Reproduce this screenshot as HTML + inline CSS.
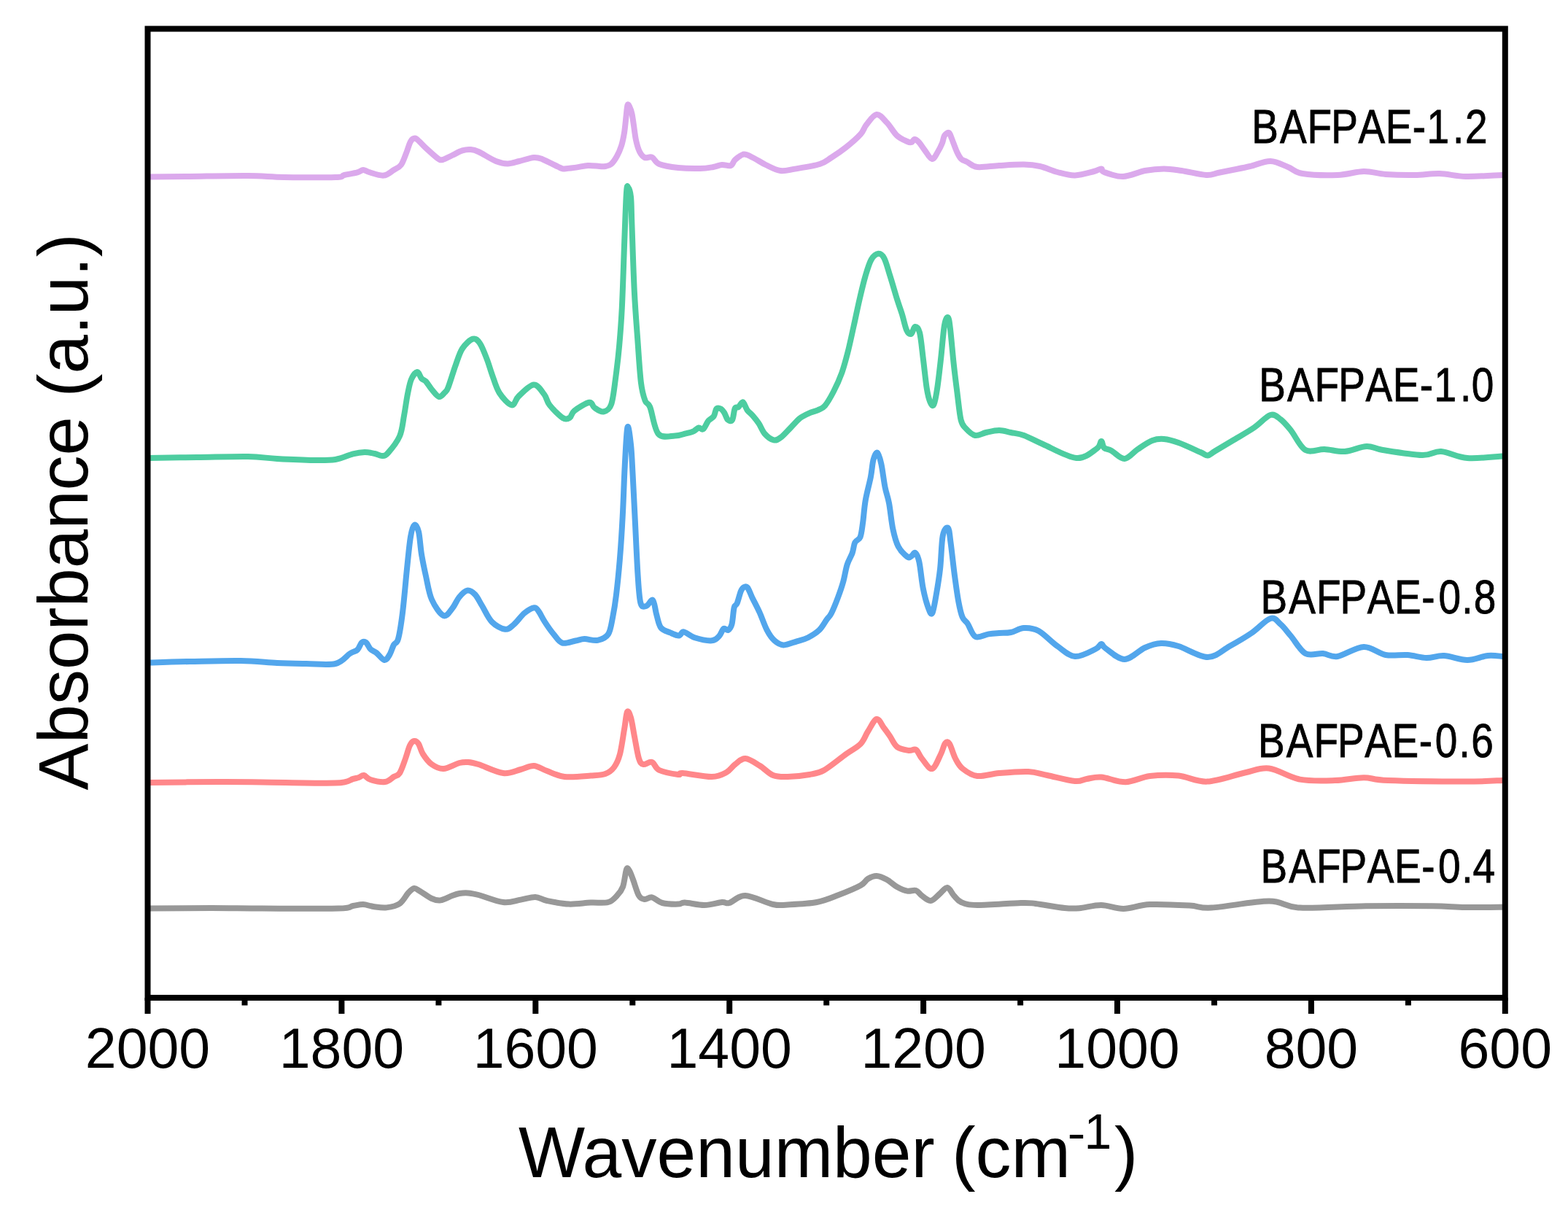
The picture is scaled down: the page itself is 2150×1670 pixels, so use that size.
<!DOCTYPE html>
<html><head><meta charset="utf-8"><title>FTIR spectra</title>
<style>
html,body{margin:0;padding:0;background:#fff;}
body{width:2150px;height:1670px;overflow:hidden;}
svg{display:block;}

</style></head>
<body>
<svg width="2150" height="1670" viewBox="0 0 2150 1670">
<rect width="2150" height="1670" fill="#fff"/>
<g fill="none" stroke-width="8" stroke-linejoin="round" stroke-linecap="round">
<path d="M204.0,1245.6 C218.3,1245.5 264.0,1245.0 290.0,1245.0 C316.0,1245.0 331.0,1245.5 360.0,1245.6 C389.0,1245.7 443.3,1246.2 464.0,1245.6 C484.7,1245.0 478.3,1242.9 484.0,1242.0 C489.7,1241.1 493.3,1239.8 498.0,1240.0 C502.7,1240.2 506.7,1242.3 512.0,1243.0 C517.3,1243.7 524.0,1245.1 530.0,1244.4 C536.0,1243.7 543.0,1242.4 548.0,1239.0 C553.0,1235.6 556.7,1227.5 560.0,1224.0 C563.3,1220.5 565.3,1218.3 568.0,1218.0 C570.7,1217.7 572.0,1219.7 576.0,1222.0 C580.0,1224.3 587.3,1229.9 592.0,1232.0 C596.7,1234.1 599.3,1235.1 604.0,1234.4 C608.7,1233.7 615.7,1229.6 620.0,1228.0 C624.3,1226.4 626.3,1225.6 630.0,1225.0 C633.7,1224.4 637.7,1224.1 642.0,1224.4 C646.3,1224.7 648.0,1224.9 656.0,1227.0 C664.0,1229.1 680.3,1235.9 690.0,1237.0 C699.7,1238.1 706.7,1234.8 714.0,1233.6 C721.3,1232.4 728.0,1229.8 734.0,1230.0 C740.0,1230.2 742.3,1233.4 750.0,1235.0 C757.7,1236.6 770.0,1239.2 780.0,1239.6 C790.0,1240.0 801.0,1238.0 810.0,1237.6 C819.0,1237.2 828.0,1238.6 834.0,1237.0 C840.0,1235.4 842.7,1231.5 846.0,1228.0 C849.3,1224.5 851.8,1222.0 854.0,1216.0 C856.2,1210.0 857.5,1195.7 859.0,1192.0 C860.5,1188.3 861.5,1191.7 863.0,1194.0 C864.5,1196.3 865.8,1200.3 868.0,1206.0 C870.2,1211.7 873.3,1223.5 876.0,1228.0 C878.7,1232.5 881.0,1232.6 884.0,1233.0 C887.0,1233.4 890.0,1229.6 894.0,1230.4 C898.0,1231.2 902.0,1236.5 908.0,1238.0 C914.0,1239.5 924.8,1239.7 930.0,1239.6 C935.2,1239.5 933.0,1237.4 939.0,1237.6 C945.0,1237.8 957.5,1241.1 966.0,1241.0 C974.5,1240.9 984.3,1237.5 990.0,1237.0 C995.7,1236.5 994.7,1239.5 1000.0,1238.0 C1005.3,1236.5 1012.0,1227.7 1022.0,1228.0 C1032.0,1228.3 1050.3,1237.9 1060.0,1240.0 C1069.7,1242.1 1070.0,1240.9 1080.0,1240.4 C1090.0,1239.9 1108.3,1239.2 1120.0,1237.0 C1131.7,1234.8 1140.0,1230.8 1150.0,1227.0 C1160.0,1223.2 1173.3,1217.7 1180.0,1214.0 C1186.7,1210.3 1186.3,1207.2 1190.0,1205.0 C1193.7,1202.8 1197.7,1200.8 1202.0,1201.0 C1206.3,1201.2 1211.3,1203.5 1216.0,1206.0 C1220.7,1208.5 1225.3,1213.4 1230.0,1216.0 C1234.7,1218.6 1239.7,1220.8 1244.0,1221.6 C1248.3,1222.4 1252.7,1219.9 1256.0,1221.0 C1259.3,1222.1 1260.7,1225.7 1264.0,1228.0 C1267.3,1230.3 1272.0,1235.3 1276.0,1235.0 C1280.0,1234.7 1284.2,1229.0 1288.0,1226.0 C1291.8,1223.0 1295.7,1216.7 1299.0,1217.0 C1302.3,1217.3 1304.8,1224.7 1308.0,1228.0 C1311.2,1231.3 1312.7,1234.8 1318.0,1237.0 C1323.3,1239.2 1326.3,1240.8 1340.0,1241.0 C1353.7,1241.2 1386.7,1238.3 1400.0,1238.0 C1413.3,1237.7 1410.0,1237.8 1420.0,1239.0 C1430.0,1240.2 1450.0,1244.0 1460.0,1245.0 C1470.0,1246.0 1471.7,1245.9 1480.0,1245.2 C1488.3,1244.5 1499.9,1240.9 1510.0,1241.0 C1520.1,1241.1 1529.4,1246.2 1540.5,1246.0 C1551.6,1245.8 1561.6,1240.8 1576.7,1240.1 C1591.8,1239.4 1616.9,1240.8 1631.0,1241.6 C1645.1,1242.3 1643.2,1245.6 1661.4,1244.6 C1679.6,1243.6 1719.8,1235.6 1740.0,1235.6 C1760.2,1235.6 1760.1,1243.5 1782.3,1244.6 C1804.5,1245.7 1842.8,1242.6 1873.0,1242.2 C1903.2,1241.8 1941.0,1241.9 1963.7,1242.2 C1986.4,1242.5 1992.9,1243.8 2009.0,1244.0 C2025.1,1244.2 2051.8,1243.8 2060.4,1243.7" stroke="#989898"/>
<path d="M204.0,1073.0 C220.0,1072.8 274.0,1072.1 300.0,1072.0 C326.0,1071.9 333.3,1072.1 360.0,1072.4 C386.7,1072.7 439.3,1074.3 460.0,1073.6 C480.7,1072.9 478.7,1069.3 484.0,1068.0 C489.3,1066.7 489.5,1066.8 492.0,1066.0 C494.5,1065.2 496.3,1062.5 499.0,1063.0 C501.7,1063.5 503.2,1067.5 508.0,1069.0 C512.8,1070.5 522.7,1072.7 528.0,1072.0 C533.3,1071.3 536.7,1067.0 540.0,1065.0 C543.3,1063.0 545.3,1064.2 548.0,1060.0 C550.7,1055.8 553.7,1046.3 556.0,1040.0 C558.3,1033.7 560.0,1026.0 562.0,1022.0 C564.0,1018.0 566.0,1016.3 568.0,1016.0 C570.0,1015.7 572.0,1017.0 574.0,1020.0 C576.0,1023.0 577.0,1029.3 580.0,1034.0 C583.0,1038.7 587.3,1044.7 592.0,1048.0 C596.7,1051.3 601.7,1054.3 608.0,1054.0 C614.3,1053.7 624.3,1047.5 630.0,1046.0 C635.7,1044.5 637.7,1044.7 642.0,1045.0 C646.3,1045.3 648.0,1045.5 656.0,1048.0 C664.0,1050.5 680.3,1058.8 690.0,1060.0 C699.7,1061.2 707.0,1056.7 714.0,1055.0 C721.0,1053.3 726.0,1049.7 732.0,1050.0 C738.0,1050.3 743.0,1054.5 750.0,1057.0 C757.0,1059.5 764.0,1063.9 774.0,1065.0 C784.0,1066.1 800.7,1064.3 810.0,1063.6 C819.3,1062.9 824.7,1062.9 830.0,1061.0 C835.3,1059.1 838.7,1056.5 842.0,1052.0 C845.3,1047.5 847.7,1042.7 850.0,1034.0 C852.3,1025.3 854.3,1009.7 856.0,1000.0 C857.7,990.3 858.5,978.7 860.0,976.0 C861.5,973.3 863.3,978.3 865.0,984.0 C866.7,989.7 868.2,1000.7 870.0,1010.0 C871.8,1019.3 874.0,1033.7 876.0,1040.0 C878.0,1046.3 879.0,1047.2 882.0,1048.0 C885.0,1048.8 890.3,1043.7 894.0,1045.0 C897.7,1046.3 898.0,1053.2 904.0,1056.0 C910.0,1058.8 924.7,1061.3 930.0,1062.0 C935.3,1062.7 928.3,1059.5 936.0,1060.0 C943.7,1060.5 966.0,1065.2 976.0,1065.0 C986.0,1064.8 990.7,1061.8 996.0,1059.0 C1001.3,1056.2 1003.7,1051.2 1008.0,1048.0 C1012.3,1044.8 1016.3,1039.7 1022.0,1040.0 C1027.7,1040.3 1035.7,1046.2 1042.0,1050.0 C1048.3,1053.8 1053.7,1060.5 1060.0,1063.0 C1066.3,1065.5 1071.7,1065.2 1080.0,1065.0 C1088.3,1064.8 1101.7,1063.5 1110.0,1062.0 C1118.3,1060.5 1121.7,1060.7 1130.0,1056.0 C1138.3,1051.3 1151.7,1040.0 1160.0,1034.0 C1168.3,1028.0 1175.0,1025.2 1180.0,1020.0 C1185.0,1014.8 1186.3,1008.7 1190.0,1003.0 C1193.7,997.3 1198.3,986.8 1202.0,986.0 C1205.7,985.2 1209.0,994.2 1212.0,998.0 C1215.0,1001.8 1217.0,1004.7 1220.0,1009.0 C1223.0,1013.3 1225.7,1020.7 1230.0,1024.0 C1234.3,1027.3 1241.7,1028.3 1246.0,1029.0 C1250.3,1029.7 1253.0,1026.2 1256.0,1028.0 C1259.0,1029.8 1260.3,1035.7 1264.0,1040.0 C1267.7,1044.3 1273.7,1055.0 1278.0,1054.0 C1282.3,1053.0 1287.0,1039.8 1290.0,1034.0 C1293.0,1028.2 1294.0,1021.3 1296.0,1019.0 C1298.0,1016.7 1299.7,1016.5 1302.0,1020.0 C1304.3,1023.5 1307.0,1034.3 1310.0,1040.0 C1313.0,1045.7 1315.0,1050.0 1320.0,1054.0 C1325.0,1058.0 1331.7,1063.0 1340.0,1064.0 C1348.3,1065.0 1358.3,1061.0 1370.0,1060.0 C1381.7,1059.0 1399.0,1057.5 1410.0,1058.0 C1421.0,1058.5 1425.3,1060.8 1436.0,1063.0 C1446.7,1065.2 1465.0,1070.2 1474.0,1071.0 C1483.0,1071.8 1484.0,1068.9 1490.0,1068.0 C1496.0,1067.1 1501.1,1064.9 1510.0,1065.6 C1518.9,1066.3 1532.4,1072.5 1543.5,1072.2 C1554.6,1071.9 1564.6,1065.5 1576.7,1064.0 C1588.8,1062.5 1602.9,1062.2 1616.0,1063.5 C1629.1,1064.8 1640.2,1072.3 1655.3,1071.6 C1670.4,1070.9 1692.6,1062.5 1706.7,1059.5 C1720.8,1056.5 1727.4,1052.0 1740.0,1053.5 C1752.6,1055.0 1767.2,1065.8 1782.3,1068.6 C1797.4,1071.4 1816.1,1070.5 1830.7,1070.1 C1845.3,1069.7 1857.9,1066.2 1870.0,1066.2 C1882.1,1066.2 1880.0,1069.2 1903.2,1070.1 C1926.4,1071.0 1982.8,1071.6 2009.0,1071.6 C2035.2,1071.6 2051.8,1070.3 2060.4,1070.0" stroke="#FF878A"/>
<path d="M204.0,908.6 C213.3,908.3 239.0,907.4 260.0,907.0 C281.0,906.6 310.0,905.7 330.0,906.0 C350.0,906.3 365.0,908.3 380.0,909.0 C395.0,909.7 406.7,909.8 420.0,910.0 C433.3,910.2 450.0,912.3 460.0,910.0 C470.0,907.7 475.0,899.2 480.0,896.0 C485.0,892.8 487.3,893.5 490.0,891.0 C492.7,888.5 494.0,882.7 496.0,881.0 C498.0,879.3 500.0,879.5 502.0,881.0 C504.0,882.5 505.7,887.7 508.0,890.0 C510.3,892.3 512.8,892.5 516.0,895.0 C519.2,897.5 524.0,904.5 527.0,905.0 C530.0,905.5 531.8,901.5 534.0,898.0 C536.2,894.5 538.0,887.7 540.0,884.0 C542.0,880.3 544.0,883.3 546.0,876.0 C548.0,868.7 550.0,856.0 552.0,840.0 C554.0,824.0 556.2,797.3 558.0,780.0 C559.8,762.7 561.3,746.0 563.0,736.0 C564.7,726.0 566.2,721.2 568.0,720.0 C569.8,718.8 572.3,722.3 574.0,729.0 C575.7,735.7 576.3,749.8 578.0,760.0 C579.7,770.2 581.7,779.7 584.0,790.0 C586.3,800.3 588.0,813.0 592.0,822.0 C596.0,831.0 603.3,841.9 608.0,844.0 C612.7,846.1 616.4,838.6 620.0,834.4 C623.6,830.2 626.3,822.8 629.7,818.7 C633.1,814.6 637.0,810.2 640.6,809.6 C644.2,809.0 648.0,811.6 651.4,815.1 C654.8,818.6 657.3,824.5 661.1,830.8 C664.9,837.0 669.1,847.3 674.4,852.6 C679.6,857.9 687.6,862.2 692.6,862.8 C697.6,863.4 700.2,859.9 704.6,856.2 C709.0,852.5 714.6,844.3 719.2,840.5 C723.9,836.7 729.3,833.6 732.5,833.2 C735.7,832.8 736.1,834.8 738.5,838.0 C740.9,841.2 743.6,847.4 747.0,852.6 C750.4,857.9 755.1,864.7 759.1,869.5 C763.1,874.3 766.1,880.1 771.1,881.6 C776.1,883.1 784.2,879.4 789.3,878.5 C794.3,877.6 796.4,876.2 801.4,876.1 C806.4,876.0 814.1,879.0 819.5,877.9 C824.9,876.8 830.6,874.7 834.0,869.5 C837.4,864.3 838.3,855.4 840.1,846.5 C841.9,837.6 843.3,829.4 844.9,816.3 C846.5,803.1 848.3,785.6 849.8,767.6 C851.3,749.6 852.6,729.7 853.7,708.3 C854.9,686.9 855.6,659.6 856.7,639.2 C857.8,618.8 859.0,590.8 860.4,585.8 C861.8,580.8 863.8,599.0 865.0,609.5 C866.2,620.0 866.6,632.5 867.5,649.0 C868.4,665.5 869.3,685.2 870.5,708.3 C871.7,731.4 873.2,767.6 874.5,787.4 C875.8,807.2 876.4,819.6 878.4,826.9 C880.4,834.1 883.5,831.5 886.3,830.9 C889.1,830.2 892.9,821.0 895.2,823.0 C897.5,825.0 898.4,836.5 900.2,842.7 C902.0,849.0 903.0,856.4 906.1,860.5 C909.2,864.6 914.8,865.6 918.9,867.4 C923.0,869.2 927.7,871.6 930.8,871.4 C933.9,871.2 934.1,865.9 937.7,866.4 C941.3,866.9 946.1,872.3 952.5,874.3 C958.9,876.3 970.6,878.7 976.2,878.3 C981.8,877.9 983.4,874.8 986.1,872.1 C988.8,869.4 990.2,863.3 992.3,861.9 C994.3,860.5 996.5,864.9 998.4,863.9 C1000.3,862.9 1002.1,860.8 1003.5,855.7 C1004.9,850.6 1005.4,838.0 1006.6,833.2 C1007.8,828.4 1009.2,830.9 1010.7,827.1 C1012.2,823.4 1014.3,814.4 1015.8,810.7 C1017.3,807.0 1018.4,806.0 1019.9,805.1 C1021.4,804.2 1023.1,803.3 1025.0,805.6 C1026.9,807.9 1028.5,813.3 1031.2,818.9 C1033.9,824.5 1038.0,831.9 1041.4,839.4 C1044.8,846.9 1048.2,857.4 1051.6,863.9 C1055.0,870.4 1058.1,874.9 1061.9,878.3 C1065.7,881.7 1069.1,884.2 1074.2,884.4 C1079.3,884.6 1087.0,881.0 1092.6,879.3 C1098.2,877.6 1102.8,876.8 1107.9,874.2 C1113.0,871.6 1119.0,868.0 1123.3,863.9 C1127.6,859.8 1130.7,853.5 1133.5,849.6 C1136.3,845.7 1137.4,845.8 1140.0,840.7 C1142.6,835.6 1146.3,826.3 1149.0,819.1 C1151.7,811.9 1154.1,805.1 1156.2,797.6 C1158.3,790.1 1159.5,780.8 1161.6,774.2 C1163.7,767.6 1166.9,763.2 1168.7,758.1 C1170.5,753.0 1170.5,747.3 1172.3,743.7 C1174.1,740.1 1177.7,741.0 1179.5,736.5 C1181.3,732.0 1181.9,725.2 1183.1,716.8 C1184.3,708.4 1184.9,696.7 1186.7,686.2 C1188.5,675.7 1192.1,663.2 1193.9,653.9 C1195.7,644.6 1196.0,636.0 1197.5,630.5 C1199.0,625.0 1201.1,619.8 1202.9,620.7 C1204.7,621.6 1206.5,628.0 1208.3,635.9 C1210.1,643.8 1211.8,659.3 1213.6,668.3 C1215.4,677.3 1217.2,680.2 1219.0,689.8 C1220.8,699.4 1222.3,715.8 1224.4,725.7 C1226.5,735.6 1228.3,742.8 1231.6,749.1 C1234.9,755.4 1241.2,761.2 1244.2,763.5 C1247.2,765.8 1247.8,763.5 1249.6,762.6 C1251.4,761.7 1253.2,756.8 1255.0,758.1 C1256.8,759.4 1258.6,762.5 1260.4,770.6 C1262.2,778.7 1263.6,796.1 1265.7,806.6 C1267.8,817.1 1270.8,827.8 1272.9,833.5 C1275.0,839.2 1276.5,843.7 1278.3,840.7 C1280.1,837.7 1281.9,825.8 1283.7,815.6 C1285.5,805.4 1287.6,793.1 1289.1,779.6 C1290.6,766.1 1290.9,744.0 1292.7,734.7 C1294.5,725.4 1298.1,722.4 1299.9,723.9 C1301.7,725.4 1302.0,732.9 1303.5,743.7 C1305.0,754.5 1307.1,775.1 1308.9,788.6 C1310.7,802.1 1312.4,814.9 1314.2,824.5 C1316.0,834.1 1317.5,841.0 1319.6,846.1 C1321.7,851.2 1323.8,850.6 1326.8,855.1 C1329.8,859.6 1332.8,870.6 1337.6,873.0 C1342.4,875.4 1350.2,870.2 1355.6,869.4 C1361.0,868.6 1364.9,868.4 1370.0,868.0 C1375.1,867.6 1380.3,868.2 1386.0,867.0 C1391.7,865.8 1397.7,861.3 1404.0,861.0 C1410.3,860.7 1416.3,860.8 1424.0,865.0 C1431.7,869.2 1441.7,880.2 1450.0,886.0 C1458.3,891.8 1465.3,899.3 1474.0,900.0 C1482.7,900.7 1496.0,892.8 1502.0,890.0 C1508.0,887.2 1507.7,883.2 1510.0,883.0 C1512.3,882.8 1510.7,885.5 1516.0,889.0 C1521.3,892.5 1533.0,904.2 1542.0,904.0 C1551.0,903.8 1561.7,891.7 1570.0,888.0 C1578.3,884.3 1584.3,882.3 1592.0,882.0 C1599.7,881.7 1605.3,882.8 1616.0,886.0 C1626.7,889.2 1644.3,901.0 1656.0,901.0 C1667.7,901.0 1676.0,891.5 1686.0,886.0 C1696.0,880.5 1706.7,874.3 1716.0,868.0 C1725.3,861.7 1735.3,850.0 1742.0,848.0 C1748.7,846.0 1751.3,852.0 1756.0,856.0 C1760.7,860.0 1764.3,865.3 1770.0,872.0 C1775.7,878.7 1782.7,892.0 1790.0,896.0 C1797.3,900.0 1806.7,895.3 1814.0,896.0 C1821.3,896.7 1824.7,901.5 1834.0,900.0 C1843.3,898.5 1859.0,887.3 1870.0,887.0 C1881.0,886.7 1890.0,896.2 1900.0,898.0 C1910.0,899.8 1920.7,897.3 1930.0,898.0 C1939.3,898.7 1947.7,901.8 1956.0,902.0 C1964.3,902.2 1970.7,898.5 1980.0,899.0 C1989.3,899.5 2002.0,905.0 2012.0,905.0 C2022.0,905.0 2032.0,899.8 2040.0,899.0 C2048.0,898.2 2056.7,899.8 2060.0,900.0" stroke="#52A6EC"/>
<path d="M204.0,628.0 C215.0,627.8 247.3,627.3 270.0,627.0 C292.7,626.7 321.7,625.7 340.0,626.0 C358.3,626.3 365.0,628.2 380.0,629.0 C395.0,629.8 416.7,630.8 430.0,631.0 C443.3,631.2 451.0,631.4 460.0,630.0 C469.0,628.6 477.3,624.1 484.0,622.4 C490.7,620.7 495.0,620.1 500.0,620.0 C505.0,619.9 510.0,621.2 514.0,622.0 C518.0,622.8 521.0,625.2 524.0,625.0 C527.0,624.8 528.0,625.5 532.0,621.0 C536.0,616.5 544.3,606.5 548.0,598.0 C551.7,589.5 552.2,579.7 554.0,570.0 C555.8,560.3 557.3,548.3 559.0,540.0 C560.7,531.7 561.8,525.0 564.0,520.0 C566.2,515.0 569.7,510.2 572.0,510.0 C574.3,509.8 576.0,516.8 578.0,519.0 C580.0,521.2 581.7,520.5 584.0,523.0 C586.3,525.5 589.0,530.5 592.0,534.0 C595.0,537.5 599.0,543.3 602.0,544.0 C605.0,544.7 607.9,540.1 610.0,538.0 C612.1,535.9 612.1,537.2 614.5,531.2 C616.9,525.2 621.0,511.1 624.2,502.2 C627.4,493.3 629.9,484.2 633.9,478.0 C637.9,471.8 644.4,465.9 648.4,464.7 C652.4,463.5 654.8,466.1 658.0,470.8 C661.2,475.5 664.9,485.4 667.7,492.6 C670.5,499.9 672.2,506.6 675.0,514.3 C677.8,521.9 680.2,531.6 684.6,538.5 C689.0,545.4 697.2,554.6 701.6,555.4 C706.0,556.2 706.2,547.9 711.2,543.3 C716.2,538.7 725.9,528.0 731.8,527.6 C737.6,527.2 742.7,536.3 746.3,540.9 C749.9,545.5 749.4,550.0 753.6,555.4 C757.8,560.8 767.1,570.1 771.7,573.0 C776.3,575.9 778.8,574.2 781.4,572.6 C784.0,571.0 783.0,566.8 787.4,563.3 C791.8,559.8 803.4,552.5 808.0,551.8 C812.6,551.1 812.0,556.9 815.2,559.0 C818.4,561.1 823.5,565.3 827.3,564.5 C831.1,563.7 835.4,562.2 838.2,554.2 C841.0,546.2 842.5,530.0 844.3,516.7 C846.1,503.4 847.7,490.2 849.1,474.4 C850.5,458.6 851.6,445.9 852.8,422.0 C854.0,398.1 855.2,357.4 856.2,331.0 C857.2,304.6 858.1,275.8 859.0,263.5 C859.9,251.2 860.3,255.9 861.3,257.0 C862.3,258.1 864.1,261.5 865.0,270.0 C865.9,278.5 865.6,286.4 866.4,308.0 C867.2,329.6 868.5,372.7 869.8,399.3 C871.1,425.9 872.9,446.6 874.4,467.5 C875.9,488.4 877.2,510.8 878.9,524.4 C880.6,538.0 882.5,543.7 884.6,549.4 C886.7,555.1 888.4,550.9 891.4,558.5 C894.4,566.1 897.1,588.5 902.8,595.0 C908.5,601.5 919.4,597.6 925.6,597.5 C931.8,597.4 935.8,595.4 940.0,594.4 C944.2,593.4 947.9,592.6 950.9,591.3 C953.9,590.0 955.9,587.0 958.1,586.5 C960.3,586.0 962.0,589.9 964.2,588.3 C966.4,586.7 969.0,579.7 971.4,576.8 C973.8,573.9 976.9,573.5 978.7,570.8 C980.5,568.1 980.7,562.2 982.3,560.5 C983.9,558.8 986.6,559.6 988.4,560.5 C990.2,561.4 991.6,563.5 993.2,566.0 C994.8,568.5 996.2,574.0 998.0,575.6 C999.8,577.2 1002.5,578.2 1004.1,575.6 C1005.7,573.0 1006.3,562.8 1007.7,559.9 C1009.1,557.0 1010.8,559.5 1012.6,558.1 C1014.4,556.7 1016.6,550.7 1018.6,551.4 C1020.6,552.1 1022.4,559.3 1024.6,562.3 C1026.8,565.3 1029.3,566.6 1031.9,569.6 C1034.5,572.6 1037.6,576.3 1040.4,580.5 C1043.2,584.7 1045.4,591.2 1048.8,595.0 C1052.2,598.8 1057.3,602.6 1060.9,603.4 C1064.5,604.2 1066.6,602.8 1070.6,599.8 C1074.6,596.8 1080.7,589.7 1085.1,585.3 C1089.5,580.9 1093.2,576.3 1097.2,573.2 C1101.2,570.1 1105.3,568.4 1109.3,566.6 C1113.3,564.8 1117.8,564.0 1121.4,562.3 C1125.0,560.6 1127.5,560.5 1131.1,556.3 C1134.7,552.1 1139.0,544.5 1142.9,537.0 C1146.8,529.5 1151.1,520.0 1154.3,511.1 C1157.5,502.2 1159.6,494.1 1162.3,483.6 C1165.0,473.1 1167.7,460.1 1170.4,448.0 C1173.1,435.9 1175.8,422.4 1178.5,410.8 C1181.2,399.2 1183.9,387.6 1186.6,378.5 C1189.3,369.4 1191.7,361.0 1194.7,355.9 C1197.7,350.8 1201.4,348.1 1204.4,347.8 C1207.4,347.5 1209.8,349.2 1212.5,354.3 C1215.2,359.4 1217.5,369.1 1220.5,378.5 C1223.5,387.9 1227.5,402.2 1230.2,410.8 C1232.9,419.4 1234.5,423.2 1236.7,430.2 C1238.9,437.2 1241.1,448.3 1243.2,452.9 C1245.3,457.5 1247.7,458.5 1249.6,457.7 C1251.5,456.9 1252.6,448.3 1254.5,448.0 C1256.4,447.7 1259.1,448.8 1261.0,456.1 C1262.9,463.4 1264.2,479.0 1265.8,491.7 C1267.4,504.4 1269.1,522.1 1270.7,532.1 C1272.3,542.1 1273.9,547.7 1275.5,551.5 C1277.1,555.3 1278.8,557.9 1280.4,554.7 C1282.0,551.5 1283.6,542.6 1285.2,532.1 C1286.8,521.6 1288.5,506.0 1290.1,491.7 C1291.7,477.4 1293.3,455.8 1294.9,446.4 C1296.5,437.0 1298.5,434.3 1299.8,435.1 C1301.1,435.9 1301.7,440.5 1303.0,451.3 C1304.3,462.1 1306.2,485.0 1307.8,499.8 C1309.4,514.6 1311.1,527.5 1312.7,540.2 C1314.3,552.9 1315.7,568.0 1317.6,575.8 C1319.5,583.6 1320.8,583.6 1324.0,587.1 C1327.2,590.6 1332.3,596.0 1337.0,597.0 C1341.7,598.0 1346.5,594.2 1352.0,593.0 C1357.5,591.8 1364.3,590.0 1370.0,590.0 C1375.7,590.0 1380.3,591.8 1386.0,593.0 C1391.7,594.2 1396.7,594.3 1404.0,597.0 C1411.3,599.7 1418.0,603.8 1430.0,609.0 C1442.0,614.2 1463.7,627.0 1476.0,628.0 C1488.3,629.0 1498.3,618.8 1504.0,615.0 C1509.7,611.2 1508.3,605.2 1510.0,605.0 C1511.7,604.8 1511.7,611.8 1514.0,614.0 C1516.3,616.2 1519.3,615.5 1524.0,618.0 C1528.7,620.5 1536.0,629.3 1542.0,629.0 C1548.0,628.7 1553.7,620.2 1560.0,616.0 C1566.3,611.8 1574.0,606.3 1580.0,604.0 C1586.0,601.7 1590.0,601.5 1596.0,602.0 C1602.0,602.5 1607.7,604.0 1616.0,607.0 C1624.3,610.0 1639.3,617.1 1646.0,620.0 C1652.7,622.9 1652.7,624.8 1656.0,624.5 C1659.3,624.2 1660.0,622.1 1666.0,618.5 C1672.0,614.9 1683.0,608.4 1692.0,603.0 C1701.0,597.6 1711.7,591.7 1720.0,586.0 C1728.3,580.3 1736.0,570.8 1742.0,569.0 C1748.0,567.2 1751.3,571.5 1756.0,575.0 C1760.7,578.5 1764.3,583.0 1770.0,590.0 C1775.7,597.0 1782.3,612.7 1790.0,617.0 C1797.7,621.3 1807.0,615.7 1816.0,616.0 C1825.0,616.3 1834.3,619.7 1844.0,619.0 C1853.7,618.3 1865.3,612.3 1874.0,612.0 C1882.7,611.7 1883.3,615.0 1896.0,617.0 C1908.7,619.0 1936.7,623.7 1950.0,624.0 C1963.3,624.3 1965.7,618.3 1976.0,619.0 C1986.3,619.7 1998.0,626.9 2012.0,628.0 C2026.0,629.1 2052.0,626.0 2060.0,625.6" stroke="#4DCDA0"/>
<path d="M204.0,242.6 C213.3,242.5 237.3,242.3 260.0,242.0 C282.7,241.7 318.3,240.8 340.0,241.0 C361.7,241.2 370.0,242.7 390.0,243.0 C410.0,243.3 446.3,243.5 460.0,243.0 C473.7,242.5 467.0,241.1 472.0,240.0 C477.0,238.9 485.7,237.6 490.0,236.4 C494.3,235.2 495.3,233.1 498.0,233.0 C500.7,232.9 501.3,234.7 506.0,236.0 C510.7,237.3 520.3,241.1 526.0,240.6 C531.7,240.1 536.0,235.4 540.0,233.0 C544.0,230.6 547.2,229.8 550.0,226.0 C552.8,222.2 554.8,215.3 557.0,210.0 C559.2,204.7 561.0,197.4 563.0,194.0 C565.0,190.6 567.0,189.6 569.0,189.6 C571.0,189.6 572.5,191.8 575.0,194.0 C577.5,196.2 579.8,199.2 584.0,203.0 C588.2,206.8 596.2,214.3 600.0,217.0 C603.8,219.7 603.7,219.7 607.0,219.0 C610.3,218.3 615.5,215.1 620.0,213.0 C624.5,210.9 629.8,207.7 634.0,206.4 C638.2,205.1 641.3,204.7 645.0,205.0 C648.7,205.3 650.2,205.3 656.0,208.0 C661.8,210.7 673.3,218.3 680.0,221.0 C686.7,223.7 690.7,224.4 696.0,224.4 C701.3,224.4 706.0,222.4 712.0,221.0 C718.0,219.6 726.7,216.4 732.0,216.0 C737.3,215.6 738.0,216.1 744.0,218.4 C750.0,220.7 763.0,227.8 768.0,230.0 C773.0,232.2 770.3,231.5 774.0,231.4 C777.7,231.3 784.7,230.3 790.0,229.6 C795.3,228.9 800.7,227.3 806.0,227.0 C811.3,226.7 818.0,227.8 822.0,228.0 C826.0,228.2 827.3,228.5 830.0,228.0 C832.7,227.5 835.3,227.3 838.0,225.0 C840.7,222.7 843.7,218.2 846.0,214.0 C848.3,209.8 850.3,205.3 852.0,200.0 C853.7,194.7 854.9,188.7 856.0,182.0 C857.1,175.3 857.8,166.3 858.5,160.0 C859.2,153.7 859.7,146.2 860.5,144.0 C861.3,141.8 862.5,145.0 863.5,147.0 C864.5,149.0 865.6,151.8 866.5,156.0 C867.4,160.2 868.1,166.0 869.0,172.0 C869.9,178.0 870.7,186.0 872.0,192.0 C873.3,198.0 875.0,204.0 877.0,208.0 C879.0,212.0 881.2,214.7 884.0,216.0 C886.8,217.3 890.7,214.1 894.0,215.6 C897.3,217.1 898.0,222.6 904.0,225.0 C910.0,227.4 920.7,229.0 930.0,230.0 C939.3,231.0 952.0,231.2 960.0,231.0 C968.0,230.8 973.0,229.8 978.0,229.0 C983.0,228.2 986.0,226.3 990.0,226.0 C994.0,225.7 999.0,228.2 1002.0,227.0 C1005.0,225.8 1005.0,221.6 1008.0,219.0 C1011.0,216.4 1015.7,211.9 1020.0,211.6 C1024.3,211.3 1029.0,214.6 1034.0,217.0 C1039.0,219.4 1044.0,223.2 1050.0,226.0 C1056.0,228.8 1063.3,233.1 1070.0,234.0 C1076.7,234.9 1081.0,233.1 1090.0,231.6 C1099.0,230.1 1115.7,227.6 1124.0,225.0 C1132.3,222.4 1134.0,219.8 1140.0,216.0 C1146.0,212.2 1153.3,207.3 1160.0,202.0 C1166.7,196.7 1175.3,189.2 1180.0,184.0 C1184.7,178.8 1184.3,175.5 1188.0,171.0 C1191.7,166.5 1197.3,157.5 1202.0,157.0 C1206.7,156.5 1211.3,163.2 1216.0,168.0 C1220.7,172.8 1225.3,181.7 1230.0,186.0 C1234.7,190.3 1240.7,192.5 1244.0,194.0 C1247.3,195.5 1248.3,195.5 1250.0,195.0 C1251.7,194.5 1252.3,191.0 1254.0,191.0 C1255.7,191.0 1257.7,192.5 1260.0,195.0 C1262.3,197.5 1265.0,202.2 1268.0,206.0 C1271.0,209.8 1275.0,217.7 1278.0,218.0 C1281.0,218.3 1283.7,211.7 1286.0,208.0 C1288.3,204.3 1290.5,199.7 1292.0,196.0 C1293.5,192.3 1293.5,188.3 1295.0,186.0 C1296.5,183.7 1299.3,181.3 1301.0,182.0 C1302.7,182.7 1303.2,185.7 1305.0,190.0 C1306.8,194.3 1309.8,203.3 1312.0,208.0 C1314.2,212.7 1315.7,215.7 1318.0,218.0 C1320.3,220.3 1322.3,220.2 1326.0,222.0 C1329.7,223.8 1332.7,228.2 1340.0,229.0 C1347.3,229.8 1359.3,227.6 1370.0,227.0 C1380.7,226.4 1394.7,225.4 1404.0,225.6 C1413.3,225.8 1418.3,226.3 1426.0,228.0 C1433.7,229.7 1442.0,233.9 1450.0,236.0 C1458.0,238.1 1465.7,240.6 1474.0,240.4 C1482.3,240.2 1494.0,236.5 1500.0,235.0 C1506.0,233.5 1507.7,231.2 1510.0,231.4 C1512.3,231.6 1509.0,234.2 1514.0,236.0 C1519.0,237.8 1530.7,242.3 1540.0,242.0 C1549.3,241.7 1560.7,235.8 1570.0,234.0 C1579.3,232.2 1587.7,231.4 1596.0,231.4 C1604.3,231.4 1610.3,232.6 1620.0,234.0 C1629.7,235.4 1645.7,239.5 1654.0,240.0 C1662.3,240.5 1664.0,238.2 1670.0,237.0 C1676.0,235.8 1682.7,234.5 1690.0,233.0 C1697.3,231.5 1705.3,230.0 1714.0,228.0 C1722.7,226.0 1733.3,220.8 1742.0,221.0 C1750.7,221.2 1758.7,226.2 1766.0,229.0 C1773.3,231.8 1774.7,236.2 1786.0,238.0 C1797.3,239.8 1820.0,240.5 1834.0,240.0 C1848.0,239.5 1859.0,235.2 1870.0,235.0 C1881.0,234.8 1888.3,238.2 1900.0,239.0 C1911.7,239.8 1927.7,240.2 1940.0,240.0 C1952.3,239.8 1962.3,237.7 1974.0,238.0 C1985.7,238.3 1995.7,241.7 2010.0,242.0 C2024.3,242.3 2051.7,240.3 2060.0,240.0" stroke="#DBA9EC"/>
</g>
<g stroke="#000" stroke-width="8" stroke-linecap="butt">
<line x1="202.5" y1="1368" x2="202.5" y2="1390.0"/>
<line x1="335.5" y1="1368" x2="335.5" y2="1378.5"/>
<line x1="468.4" y1="1368" x2="468.4" y2="1390.0"/>
<line x1="601.4" y1="1368" x2="601.4" y2="1378.5"/>
<line x1="734.3" y1="1368" x2="734.3" y2="1390.0"/>
<line x1="867.3" y1="1368" x2="867.3" y2="1378.5"/>
<line x1="1000.2" y1="1368" x2="1000.2" y2="1390.0"/>
<line x1="1133.2" y1="1368" x2="1133.2" y2="1378.5"/>
<line x1="1266.1" y1="1368" x2="1266.1" y2="1390.0"/>
<line x1="1399.1" y1="1368" x2="1399.1" y2="1378.5"/>
<line x1="1532.0" y1="1368" x2="1532.0" y2="1390.0"/>
<line x1="1665.0" y1="1368" x2="1665.0" y2="1378.5"/>
<line x1="1797.9" y1="1368" x2="1797.9" y2="1390.0"/>
<line x1="1930.9" y1="1368" x2="1930.9" y2="1378.5"/>
<line x1="2063.8" y1="1368" x2="2063.8" y2="1390.0"/>
</g>
<rect x="202.5" y="39.5" width="1861.3" height="1328.5" fill="none" stroke="#000" stroke-width="8"/>
<g font-family="'Liberation Sans', sans-serif" font-size="77" text-anchor="middle" fill="#000">
<text x="202.5" y="1463.5">2000</text>
<text x="468.4" y="1463.5">1800</text>
<text x="734.3" y="1463.5">1600</text>
<text x="1000.2" y="1463.5">1400</text>
<text x="1266.1" y="1463.5">1200</text>
<text x="1532.0" y="1463.5">1000</text>
<text x="1797.9" y="1463.5">800</text>
<text x="2063.8" y="1463.5">600</text>
</g>
<g font-family="'Liberation Sans', sans-serif" font-size="63.9" fill="#000" stroke="#000" stroke-width="0.9">
<text x="1995.54 2040.67 2084.43 2122.29 2165.61 2209.01 2252.15 2274.96 2316.36 2336.07" y="196.4" transform="scale(0.860,1)">BAFPAE-1.2</text>
<text x="2007.17 2052.29 2096.06 2133.92 2177.24 2220.64 2263.78 2286.59 2327.98 2346.36" y="549.7" transform="scale(0.860,1)">BAFPAE-1.0</text>
<text x="2009.85 2054.97 2098.74 2136.59 2179.91 2223.31 2266.45 2293.57 2330.66 2349.79" y="840.7" transform="scale(0.860,1)">BAFPAE-0.8</text>
<text x="2005.78 2050.90 2094.67 2132.52 2175.84 2219.24 2262.38 2288.22 2326.12 2345.62" y="1038.4" transform="scale(0.860,1)">BAFPAE-0.6</text>
<text x="2009.85 2054.97 2098.74 2136.59 2179.91 2223.31 2266.45 2293.10 2330.66 2348.25" y="1209.7" transform="scale(0.860,1)">BAFPAE-0.4</text>
</g>
<g font-family="'Liberation Sans', sans-serif" fill="#000" transform="translate(0,1613.5) scale(1,1.02)">
<text y="0" font-size="97"><tspan x="711" textLength="570.7" lengthAdjust="spacingAndGlyphs">Wavenumber</tspan><tspan x="1305" textLength="163" lengthAdjust="spacingAndGlyphs">(cm</tspan><tspan x="1528">)</tspan></text>
</g>
<g font-family="'Liberation Sans', sans-serif" fill="#000">
<text x="1463.6" y="1576" font-size="64" textLength="25" lengthAdjust="spacingAndGlyphs">-</text>
<text x="1486.5" y="1574.8" font-size="68">1</text>
</g>
<text transform="translate(119.7,1083.4) rotate(-90)" x="0" y="0" font-family="'Liberation Sans', sans-serif" font-size="96" fill="#000">Absorbance (a.u.)</text>
</svg>
</body></html>
